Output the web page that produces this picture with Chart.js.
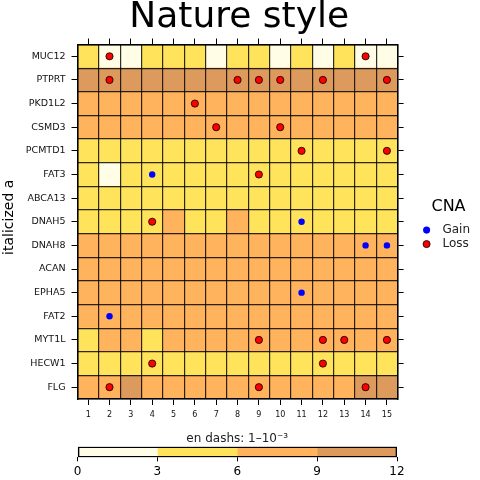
<!DOCTYPE html>
<html>
<head>
<meta charset="utf-8">
<script src="https://cdn.jsdelivr.net/npm/chart.js@4.4.1/dist/chart.umd.min.js"></script>
<style>
  html, body { margin:0; padding:0; background:#fff; }
  #wrap { position:relative; width:480px; height:480px; }
  #heat { position:absolute; left:0; top:0; }
  #bar  { position:absolute; left:0; top:425px; }
</style>
</head>
<body>
<div id="wrap">
  <canvas id="heat" width="480" height="425"></canvas>
  <canvas id="bar" width="480" height="55"></canvas>
</div>
<script>
// ===== DATA =====
const genes = ['MUC12','PTPRT','PKD1L2','CSMD3','PCMTD1','FAT3','ABCA13','DNAH5','DNAH8','ACAN','EPHA5','FAT2','MYT1L','HECW1','FLG'];
const columns = [1,2,3,4,5,6,7,8,9,10,11,12,13,14,15];

// one row per gene (top to bottom), one value per column
const burden = [
  [4.5,1.5,1.5,4.5,4.5,4.5,1.5,4.5,4.5,1.5,4.5,1.5,4.5,1.5,1.5],
  [10.5,10.5,10.5,10.5,10.5,10.5,10.5,10.5,10.5,10.5,10.5,10.5,10.5,10.5,10.5],
  [7.5,7.5,7.5,7.5,7.5,7.5,7.5,7.5,7.5,7.5,7.5,7.5,7.5,7.5,7.5],
  [7.5,7.5,7.5,7.5,7.5,7.5,7.5,7.5,7.5,7.5,7.5,7.5,7.5,7.5,7.5],
  [4.5,4.5,4.5,4.5,4.5,4.5,4.5,4.5,4.5,4.5,4.5,4.5,4.5,4.5,4.5],
  [4.5,1.5,4.5,4.5,4.5,4.5,4.5,4.5,4.5,4.5,4.5,4.5,4.5,4.5,4.5],
  [4.5,4.5,4.5,4.5,4.5,4.5,4.5,4.5,4.5,4.5,4.5,4.5,4.5,4.5,4.5],
  [4.5,4.5,4.5,4.5,7.5,4.5,4.5,7.5,4.5,4.5,4.5,4.5,4.5,4.5,4.5],
  [7.5,7.5,7.5,7.5,7.5,7.5,7.5,7.5,7.5,7.5,7.5,7.5,7.5,7.5,7.5],
  [7.5,7.5,7.5,7.5,7.5,7.5,7.5,7.5,7.5,7.5,7.5,7.5,7.5,7.5,7.5],
  [7.5,7.5,7.5,7.5,7.5,7.5,7.5,7.5,7.5,7.5,7.5,7.5,7.5,7.5,7.5],
  [7.5,7.5,7.5,7.5,7.5,7.5,7.5,7.5,7.5,7.5,7.5,7.5,7.5,7.5,7.5],
  [4.5,7.5,7.5,4.5,7.5,7.5,7.5,7.5,7.5,7.5,7.5,7.5,7.5,7.5,7.5],
  [4.5,4.5,4.5,4.5,4.5,4.5,4.5,4.5,4.5,4.5,4.5,4.5,4.5,4.5,4.5],
  [7.5,7.5,10.5,7.5,7.5,7.5,7.5,7.5,7.5,7.5,7.5,7.5,7.5,10.5,10.5],
];

const gainCells = [['FAT3',4],['DNAH5',11],['DNAH8',14],['DNAH8',15],['EPHA5',11],['FAT2',2]];
const lossCells = [
  ['MUC12',2],['MUC12',14],
  ['PTPRT',2],['PTPRT',8],['PTPRT',9],['PTPRT',10],['PTPRT',12],['PTPRT',15],
  ['PKD1L2',6],['CSMD3',7],['CSMD3',10],['PCMTD1',11],['PCMTD1',15],
  ['FAT3',9],['DNAH5',4],
  ['MYT1L',9],['MYT1L',12],['MYT1L',13],['MYT1L',15],
  ['HECW1',4],['HECW1',12],
  ['FLG',2],['FLG',9],['FLG',14],
];

const levelBounds = [0,3,6,9,12];
const levelColors = ['#FFFDE6','#FFE45B','#FFB35C','#DC9A5C'];

Chart.defaults.font.family = 'DejaVu Sans';
Chart.defaults.color = '#111';

function colorFor(v) {
  for (let i = 0; i < levelColors.length; i++) {
    if (v < levelBounds[i + 1]) return levelColors[i];
  }
  return levelColors[levelColors.length - 1];
}

// ===== HEATMAP =====
const cellSets = columns.map((c, j) => ({
  type: 'bar',
  label: 'col' + c,
  data: genes.map(() => [c - 0.5, c + 0.5]),
  backgroundColor: burden.map(row => colorFor(row[j])),
  borderWidth: 0,
  grouped: false,
  barPercentage: 1,
  categoryPercentage: 1,
  xAxisID: 'x', yAxisID: 'y',
}));

const pointSets = [
  { type:'scatter', label:'Gain', data: gainCells.map(([g, c]) => ({ x:c, y:g })),
    backgroundColor:'#0000FF', borderColor:'#0000FF', borderWidth:0, pointRadius:3.2, xAxisID:'x', yAxisID:'y' },
  { type:'scatter', label:'Loss', data: lossCells.map(([g, c]) => ({ x:c, y:g })),
    backgroundColor:'#FF0000', borderColor:'#000', borderWidth:0.8, pointRadius:3.6, xAxisID:'x', yAxisID:'y' },
];

const tickMarks = { drawOnChartArea:false, drawTicks:true, tickLength:6, color:'#000', lineWidth:1, offset:false };
const frame = { display:true, color:'#000', width:1.5, z:2 };
const cellLines = { color:'rgba(0,0,0,0.82)', lineWidth:1.2, drawTicks:false, offset:false, z:1 };

new Chart(document.getElementById('heat'), {
  type: 'bar',
  data: { labels: genes, datasets: [...pointSets, ...cellSets] },
  options: {
    responsive:false, animation:false, indexAxis:'y',
    layout: { padding: { left:0, right:1.6, top:0, bottom:0 } },
    scales: {
      x: { type:'linear', position:'bottom', min:0.5, max:15.5,
           afterBuildTicks: s => { s.ticks = columns.map(v => ({ value:v })); },
           ticks:{ font:{ size:8 }, padding:5, maxRotation:0, autoSkip:false },
           grid: tickMarks, border: frame,
           afterFit: s => { s.height = 26; } },
      xTop: { type:'linear', position:'top', min:0.5, max:15.5,
           afterBuildTicks: s => { s.ticks = columns.map(v => ({ value:v })); },
           ticks:{ display:false }, grid: tickMarks, border: frame,
           afterFit: s => { s.height = 6.5; } },
      y: { type:'category', position:'left', labels: genes, offset:true,
           ticks:{ font:{ size:9.5 }, padding:6, autoSkip:false },
           grid: tickMarks, border: frame,
           title:{ display:true, text:'  italicized a', color:'#000', font:{ size:14 }, padding:{ top:1, bottom:0 } },
           afterFit: s => { s.width = 77.5; } },
      yRight: { type:'category', position:'right', labels: genes, offset:true,
           ticks:{ display:false, autoSkip:false }, grid: tickMarks, border: frame,
           afterFit: s => { s.width = 21; } },
      xg: { type:'linear', position:'bottom', min:0, max:15, offset:false,
           ticks:{ display:false, stepSize:1 }, grid: cellLines, border:{ display:false },
           afterFit: s => { s.height = 0; } },
      yg: { type:'linear', position:'left', min:0, max:15, offset:false,
           ticks:{ display:false, stepSize:1 }, grid: cellLines, border:{ display:false },
           afterFit: s => { s.width = 0; } },
    },
    plugins: {
      title: { display:true, text:'Nature style', color:'#000',
               font:{ size:36, weight:'normal', lineHeight:1 }, padding:{ top:0, bottom:2 } },
      legend: {
        position:'right', align:'center',
        title:{ display:true, text:'CNA', color:'#000', font:{ size:16 }, padding:{ top:26, bottom:4 } },
        labels:{
          usePointStyle:true, pointStyle:'circle', boxWidth:12, boxHeight:5, padding:2,
          color:'#222', font:{ size:12 },
          generateLabels: chart => Chart.defaults.plugins.legend.labels.generateLabels(chart)
            .filter(l => chart.data.datasets[l.datasetIndex].type === 'scatter')
            .map(l => Object.assign(l, { text:' ' + l.text })),
        },
      },
      tooltip: { enabled:false },
    },
  },
});

// ===== COLOUR BAR =====
const bandSets = levelColors.map((col, i) => ({
  label:'band' + i,
  data:[[levelBounds[i], levelBounds[i + 1]]],
  backgroundColor: col, borderWidth:0, grouped:false,
  barPercentage:1, categoryPercentage:1, order:1,
}));
const outlineSet = {
  label:'outline',
  data:[[levelBounds[0], levelBounds[levelBounds.length - 1]]],
  backgroundColor:'rgba(0,0,0,0)', borderColor:'#000', borderWidth:1, borderSkipped:false,
  grouped:false, barPercentage:1, categoryPercentage:1, order:0,
};

new Chart(document.getElementById('bar'), {
  type:'bar',
  data:{ labels:['level'], datasets:[outlineSet, ...bandSets] },
  options:{
    responsive:false, animation:false, indexAxis:'y',
    layout:{ padding:{ left:77.5, right:83, top:0, bottom:0 } },
    scales:{
      x:{ type:'linear', position:'bottom', min:0, max:12,
          afterBuildTicks: s => { s.ticks = levelBounds.map(v => ({ value:v })); },
          ticks:{ font:{ size:12 }, padding:3, color:'#000', maxRotation:0 },
          grid:{ drawOnChartArea:false, drawTicks:true, tickLength:4, color:'#000' },
          border:{ display:false },
          afterFit: s => { s.height = 22.7; } },
      xt:{ type:'linear', position:'top', min:0, max:12,
          ticks:{ display:false }, grid:{ display:false }, border:{ display:false },
          title:{ display:true, text:'en dashs: 1–10⁻³', color:'#222', font:{ size:12 }, padding:{ top:6.8, bottom:0 } },
          afterFit: s => { s.height = 21.7; } },
      y:{ type:'category', display:false },
    },
    plugins:{ legend:{ display:false }, title:{ display:false }, tooltip:{ enabled:false } },
  },
});
</script>
</body>
</html>
